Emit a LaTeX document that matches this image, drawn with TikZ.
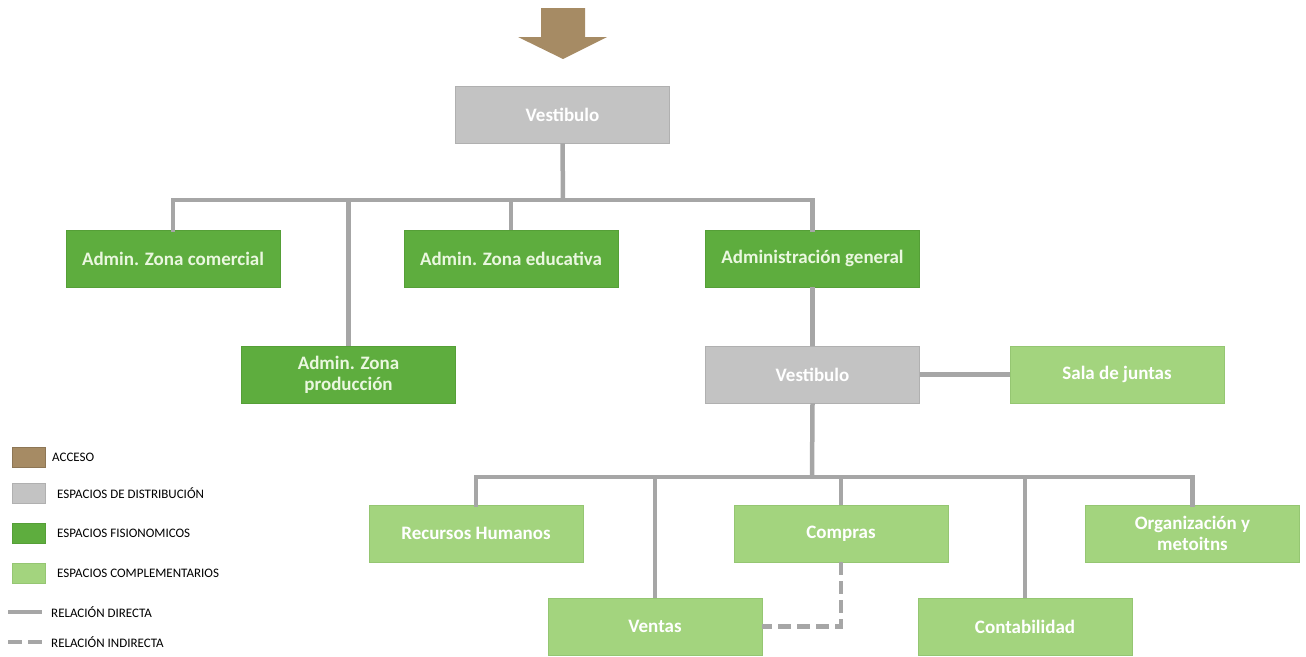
\documentclass[tikz,border=0pt]{standalone}
\usepackage{fontspec}
\setmainfont{Carlito}
\definecolor{acc}{HTML}{A68B64}
\definecolor{dist}{HTML}{C3C3C3}
\definecolor{distb}{HTML}{B0B0B0}
\definecolor{fis}{HTML}{5EAD3E}
\definecolor{fisb}{HTML}{559F37}
\definecolor{comp}{HTML}{A3D47E}
\definecolor{compb}{HTML}{95C672}
\definecolor{ln}{HTML}{A6A6A6}
\definecolor{ftxt}{HTML}{EAF7DF}
\tikzset{
  x=1pt,y=-1pt,
  box/.style={minimum width=214pt,minimum height=57pt,inner sep=2pt,align=center,text=white,font=\fontsize{19}{21}\selectfont\bfseries,line width=0.8pt},
  distbox/.style={box,fill=dist,draw=distb},
  fisbox/.style={box,fill=fis,draw=fisb,text=ftxt},
  compbox/.style={box,fill=comp,draw=compb},
  conn/.style={draw=ln,line width=4.5pt},
  dconn/.style={draw=ln,line width=4.5pt,dash pattern=on 13pt off 6pt},
  sw/.style={minimum width=33pt,minimum height=20pt,inner sep=0pt,line width=0.8pt},
  leg/.style={anchor=west,font=\fontsize{13}{15}\selectfont,inner sep=0pt}
}
\begin{document}
\begin{tikzpicture}
\useasboundingbox (0,0) rectangle (1306,656);
% access arrow
\fill[acc] (541,8) -- (585,8) -- (585,37) -- (607,37) -- (563,59) -- (518,37) -- (541,37) -- cycle;
% nodes
\node[distbox] (v1) at (562.5,114.5) {Vestibulo};
\node[fisbox] (ac) at (173,258.5) {Admin. Zona comercial};
\node[fisbox] (ae) at (511,258.5) {Admin. Zona educativa};
\node[fisbox] (ag) at (812.5,258.5) {Administración general};
\node[fisbox] (ap) at (348.5,374.5) {Admin. Zona\\producción};
\node[distbox] (v2) at (812.5,374.5) {Vestibulo};
\node[compbox] (sj) at (1117,374.5) {Sala de juntas};
\node[compbox] (rh) at (476,533.5) {Recursos Humanos};
\node[compbox] (co) at (841,533.5) {Compras};
\node[compbox] (om) at (1192.5,533.5) {Organización y\\metoitns};
\node[compbox] (ve) at (655,626.5) {Ventas};
\node[compbox] (ct) at (1025,626.5) {Contabilidad};
% connectors
\coordinate (b1) at (563,200);
\coordinate (b2) at (812,477);
\draw[conn] (v1.south) -- (b1);
\draw[conn,line cap=rect] (ac.north) |- (b1) -| (ag.north);
\draw[conn] (ap.north) -- (ap.north |- b1);
\draw[conn] (ae.north) -- (ae.north |- b1);
\draw[conn] (ag.south) -- (v2.north);
\draw[conn] (v2.east) -- (sj.west);
\draw[conn] (v2.south) -- (b2);
\draw[conn,line cap=rect] (rh.north) |- (b2) -| (om.north);
\draw[conn] (ve.north) -- (ve.north |- b2);
\draw[conn] (co.north) -- (co.north |- b2);
\draw[conn] (ct.north) -- (ct.north |- b2);
\draw[dconn] (co.south) |- (ve.east);
% legend
\node[sw,fill=acc,draw=acc!85!black] (l1) at (28.5,457) {};
\node[leg] (t1) at (52,457) {ACCESO};
\node[sw,fill=dist,draw=distb] (l2) at (28.5,493) {};
\node[leg] (t2) at (57,493) {ESPACIOS DE DISTRIBUCIÓN};
\node[sw,fill=fis,draw=fisb] (l3) at (28.5,533) {};
\node[leg] (t3) at (57,533) {ESPACIOS FISIONOMICOS};
\node[sw,fill=comp,draw=compb] (l4) at (28.5,573) {};
\node[leg] (t4) at (57,573) {ESPACIOS COMPLEMENTARIOS};
\coordinate (r1a) at (8,612);
\coordinate (r1b) at (42,612);
\draw[conn,line width=4pt] (r1a) -- (r1b);
\node[leg] (t5) at (51,612) {RELACIÓN DIRECTA};
\coordinate (r2a) at (8,642);
\coordinate (r2b) at (42,642);
\draw[conn,line width=4pt,dash pattern=on 14pt off 6pt] (r2a) -- (r2b);
\node[leg] (t6) at (51,642) {RELACIÓN INDIRECTA};
\end{tikzpicture}
\end{document}
